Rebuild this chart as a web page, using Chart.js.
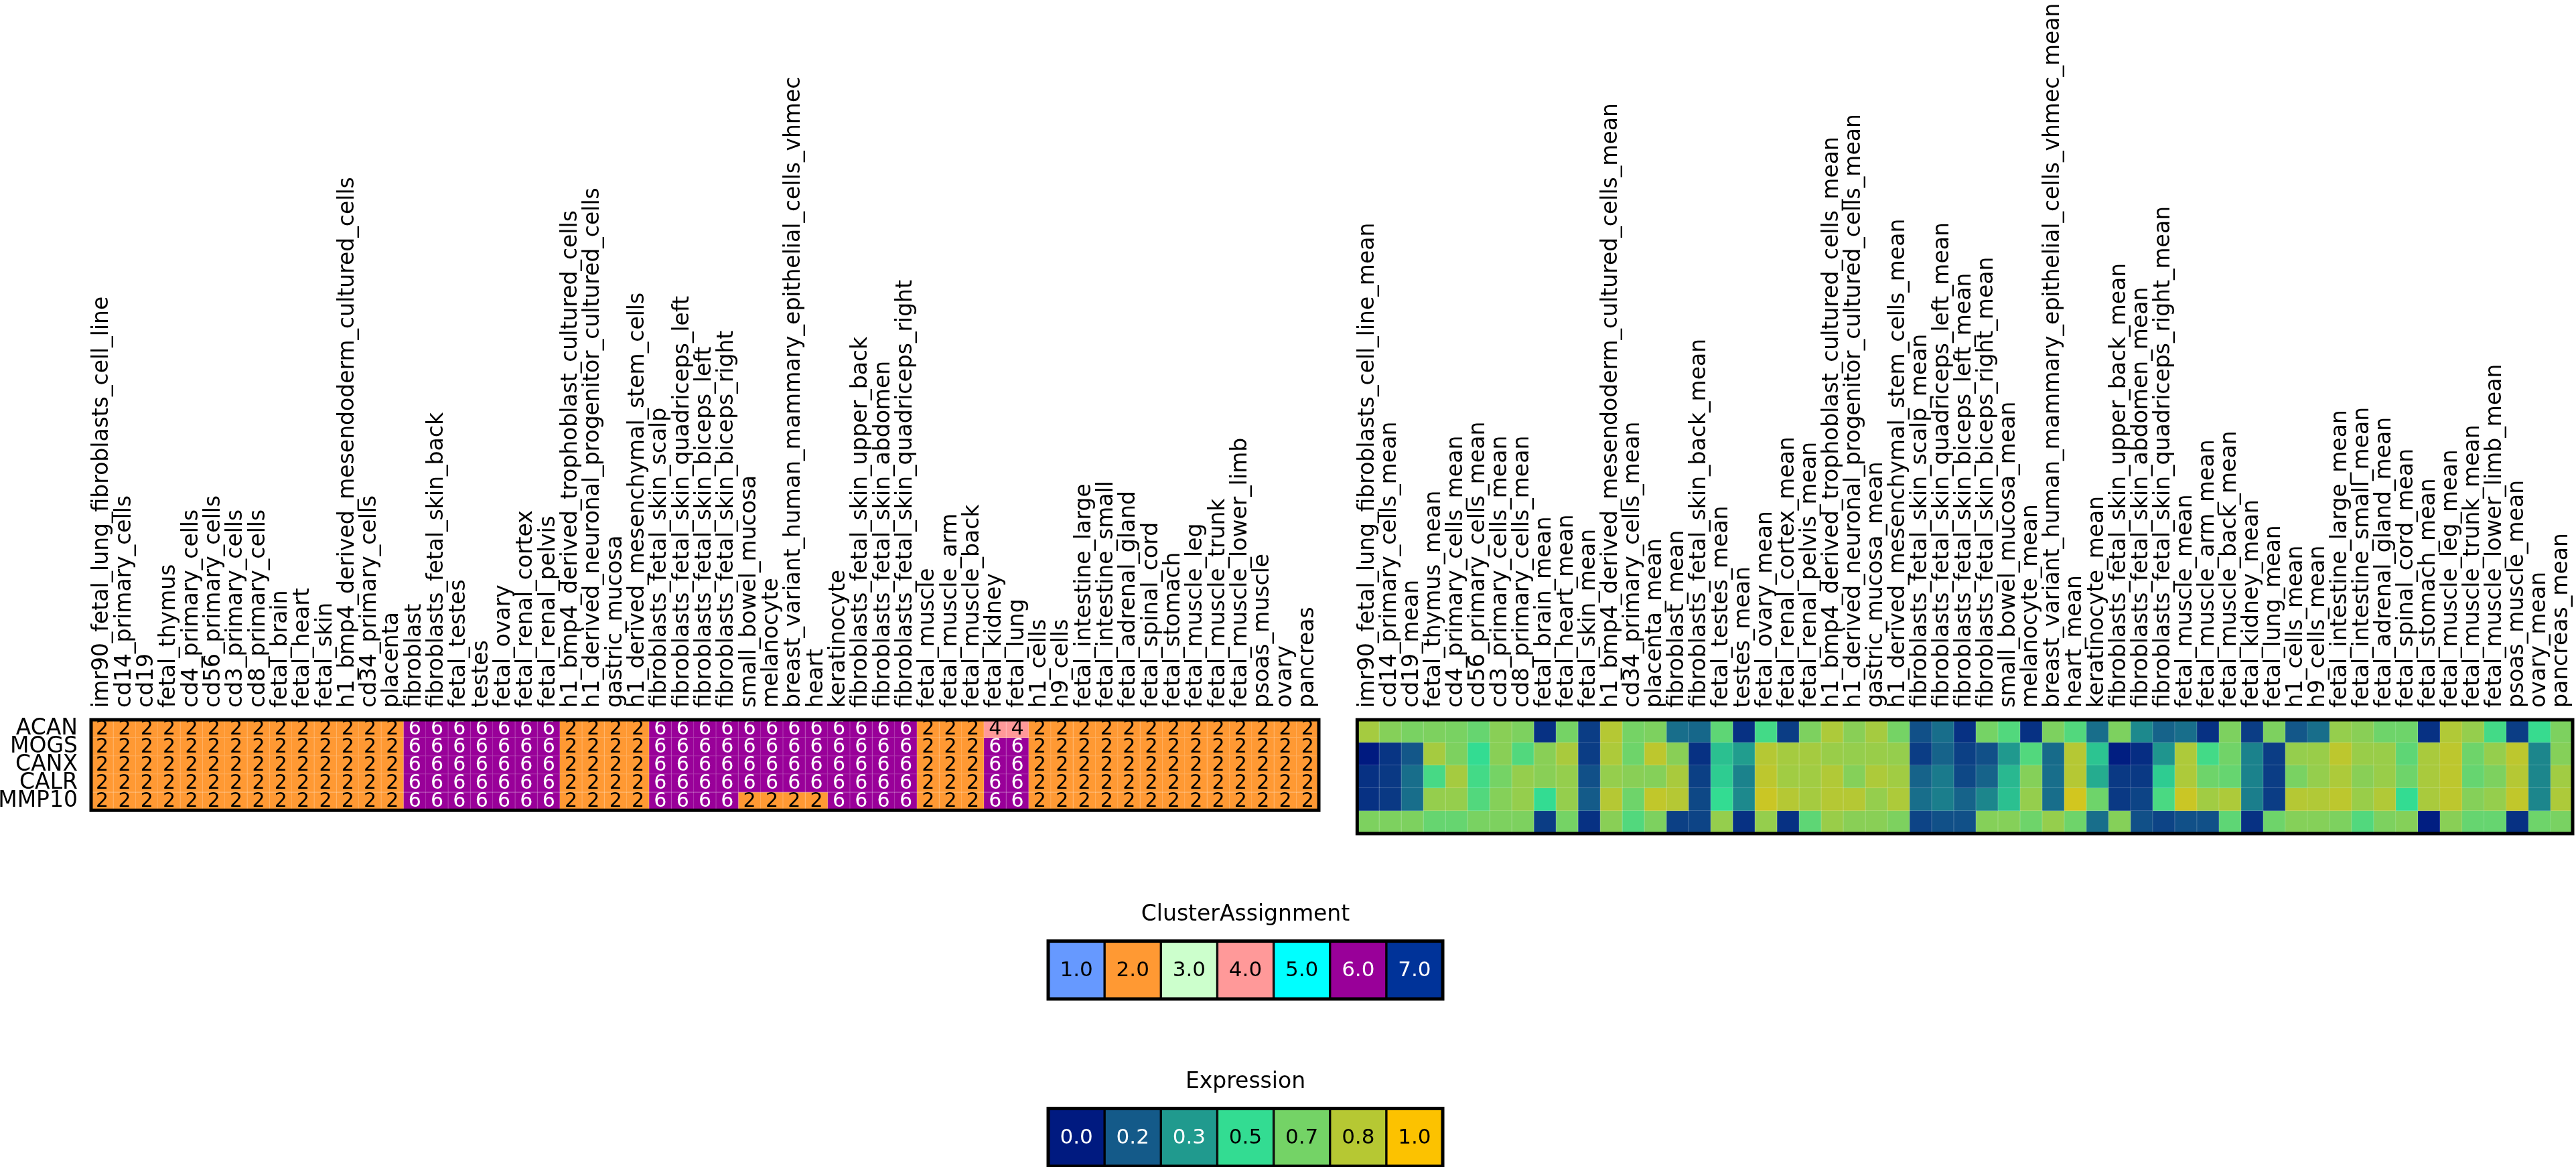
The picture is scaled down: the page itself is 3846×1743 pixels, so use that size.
<!DOCTYPE html>
<html><head><meta charset="utf-8">
<script src="https://cdn.jsdelivr.net/npm/chart.js@4.4.1/dist/chart.umd.min.js"></script>
<style>
html,body{margin:0;padding:0;background:#fff;width:3846px;height:1743px;overflow:hidden;}
canvas{position:absolute;}
</style></head><body>
<canvas id="left" width="1975" height="1250" style="left:0px;top:0px"></canvas>
<canvas id="right" width="1861" height="1250" style="left:1985px;top:0px"></canvas>
<canvas id="legC" width="640" height="170" style="left:1540px;top:1330px"></canvas>
<canvas id="legE" width="640" height="165" style="left:1540px;top:1580px"></canvas>
<script>
const genes = ['ACAN','MOGS','CANX','CALR','MMP10'];

const cellTypes = ['imr90_fetal_lung_fibroblasts_cell_line','cd14_primary_cells','cd19','fetal_thymus','cd4_primary_cells','cd56_primary_cells','cd3_primary_cells','cd8_primary_cells','fetal_brain','fetal_heart','fetal_skin','h1_bmp4_derived_mesendoderm_cultured_cells','cd34_primary_cells','placenta','fibroblast','fibroblasts_fetal_skin_back','fetal_testes','testes','fetal_ovary','fetal_renal_cortex','fetal_renal_pelvis','h1_bmp4_derived_trophoblast_cultured_cells','h1_derived_neuronal_progenitor_cultured_cells','gastric_mucosa','h1_derived_mesenchymal_stem_cells','fibroblasts_fetal_skin_scalp','fibroblasts_fetal_skin_quadriceps_left','fibroblasts_fetal_skin_biceps_left','fibroblasts_fetal_skin_biceps_right','small_bowel_mucosa','melanocyte','breast_variant_human_mammary_epithelial_cells_vhmec','heart','keratinocyte','fibroblasts_fetal_skin_upper_back','fibroblasts_fetal_skin_abdomen','fibroblasts_fetal_skin_quadriceps_right','fetal_muscle','fetal_muscle_arm','fetal_muscle_back','fetal_kidney','fetal_lung','h1_cells','h9_cells','fetal_intestine_large','fetal_intestine_small','fetal_adrenal_gland','fetal_spinal_cord','fetal_stomach','fetal_muscle_leg','fetal_muscle_trunk','fetal_muscle_lower_limb','psoas_muscle','ovary','pancreas'];
const meanLabels = cellTypes.map(c => c + '_mean');

// Cluster assignment (left heatmap)
const clusterACAN  = [2,2,2,2,2,2,2,2,2,2,2,2,2,2, 6,6,6,6,6,6,6, 2,2,2,2, 6,6,6,6,6,6,6,6,6,6,6,6, 2,2,2, 4,4, 2,2,2,2,2,2,2,2,2,2,2,2,2];
const clusterMOGS  = [2,2,2,2,2,2,2,2,2,2,2,2,2,2, 6,6,6,6,6,6,6, 2,2,2,2, 6,6,6,6,6,6,6,6,6,6,6,6, 2,2,2, 6,6, 2,2,2,2,2,2,2,2,2,2,2,2,2];
const clusterCANX  = [2,2,2,2,2,2,2,2,2,2,2,2,2,2, 6,6,6,6,6,6,6, 2,2,2,2, 6,6,6,6,6,6,6,6,6,6,6,6, 2,2,2, 6,6, 2,2,2,2,2,2,2,2,2,2,2,2,2];
const clusterCALR  = [2,2,2,2,2,2,2,2,2,2,2,2,2,2, 6,6,6,6,6,6,6, 2,2,2,2, 6,6,6,6,6,6,6,6,6,6,6,6, 2,2,2, 6,6, 2,2,2,2,2,2,2,2,2,2,2,2,2];
const clusterMMP10 = [2,2,2,2,2,2,2,2,2,2,2,2,2,2, 6,6,6,6,6,6,6, 2,2,2,2, 6,6,6,6,2,2,2,2,6,6,6,6, 2,2,2, 6,6, 2,2,2,2,2,2,2,2,2,2,2,2,2];

// Mean expression (right heatmap)
const exprACAN  = [0.79,0.71,0.68,0.69,0.68,0.63,0.72,0.69,0.06,0.67, 0.09,0.83,0.67,0.69,0.22,0.20,0.61,0.06,0.54,0.09, 0.69,0.81,0.72,0.79,0.67,0.14,0.22,0.06,0.67,0.58, 0.06,0.69,0.58,0.22,0.69,0.29,0.19,0.22,0.06,0.69, 0.09,0.69,0.16,0.22,0.75,0.72,0.65,0.65,0.06,0.82, 0.75,0.54,0.09,0.51,0.69];
const exprMOGS  = [0.00,0.07,0.16,0.79,0.69,0.50,0.72,0.58,0.72,0.80, 0.09,0.81,0.65,0.85,0.72,0.06,0.43,0.34,0.83,0.79, 0.79,0.76,0.75,0.76,0.75,0.09,0.19,0.10,0.14,0.33, 0.58,0.21,0.83,0.44,0.01,0.05,0.32,0.81,0.54,0.66, 0.27,0.09,0.75,0.76,0.85,0.76,0.76,0.61,0.80,0.85, 0.65,0.75,0.85,0.28,0.71];
const exprCANX  = [0.06,0.08,0.22,0.55,0.79,0.54,0.67,0.75,0.72,0.75, 0.14,0.75,0.72,0.71,0.80,0.10,0.46,0.27,0.85,0.78, 0.78,0.82,0.71,0.81,0.78,0.19,0.25,0.12,0.19,0.41, 0.71,0.22,0.83,0.38,0.08,0.08,0.46,0.81,0.65,0.63, 0.27,0.09,0.68,0.75,0.81,0.72,0.76,0.65,0.80,0.85, 0.63,0.69,0.83,0.28,0.78];
const exprCALR  = [0.06,0.08,0.22,0.75,0.75,0.58,0.71,0.75,0.50,0.75, 0.17,0.83,0.65,0.86,0.83,0.12,0.50,0.29,0.88,0.83, 0.79,0.83,0.83,0.75,0.81,0.22,0.26,0.19,0.28,0.43, 0.75,0.22,0.90,0.65,0.08,0.11,0.56,0.88,0.78,0.81, 0.26,0.09,0.83,0.82,0.85,0.76,0.82,0.50,0.80,0.85, 0.71,0.75,0.86,0.28,0.81];
const exprMMP10 = [0.69,0.69,0.69,0.63,0.63,0.68,0.69,0.69,0.09,0.67, 0.06,0.72,0.58,0.69,0.10,0.11,0.75,0.06,0.75,0.06, 0.61,0.76,0.72,0.72,0.69,0.11,0.14,0.14,0.71,0.71, 0.65,0.75,0.65,0.22,0.71,0.14,0.11,0.14,0.14,0.61, 0.06,0.65,0.71,0.71,0.69,0.58,0.69,0.71,0.01,0.72, 0.63,0.63,0.06,0.65,0.68];

// Legends
const clusterLegendValues = [1,2,3,4,5,6,7];
const clusterLegendLabels = ['1.0','2.0','3.0','4.0','5.0','6.0','7.0'];
const clusterColors = ['#6699ff','#ff9933','#ccffcc','#ff9999','#00ffff','#990099','#003399'];
const exprLegendValues = [0, 0.167, 0.333, 0.5, 0.667, 0.833, 1];
const exprLegendLabels = ['0.0','0.2','0.3','0.5','0.7','0.8','1.0'];
const exprStops = ['#001a80','#145a89','#209a8e','#33dc92','#74d366','#b6c833','#fcc200'];

const clusterRows = [clusterACAN, clusterMOGS, clusterCANX, clusterCALR, clusterMMP10];
const exprRows = [exprACAN, exprMOGS, exprCANX, exprCALR, exprMMP10];

const FONT = 'DejaVu Sans';
const LABEL_PX = 33;
Chart.defaults.font.family = FONT;
Chart.defaults.color = '#000';

function hexToRgb(h){ h=h.replace('#',''); return [parseInt(h.slice(0,2),16),parseInt(h.slice(2,4),16),parseInt(h.slice(4,6),16)]; }
function rgbStr(c){ return 'rgb('+c.map(v=>Math.round(v)).join(',')+')'; }
function cmapRgb(v){
  const n = exprStops.length-1;
  const t = Math.max(0,Math.min(1,v))*n;
  const i = Math.min(Math.floor(t), n-1), f = t-i;
  const a = hexToRgb(exprStops[i]), b = hexToRgb(exprStops[i+1]);
  return [0,1,2].map(k => a[k]+(b[k]-a[k])*f);
}
function lighten(c, amt){ return c.map(v => v+(255-v)*amt); }
function clusterRgb(c){ return hexToRgb(clusterColors[c-1]); }
function clusterTextColor(c){ return c >= 6 ? '#ffffff' : '#000000'; }
function exprTextColor(v){ return v < 0.4 ? '#ffffff' : '#000000'; }

function textPlugin(values, colorFn, fmtFn, fontPx){
  return {
    id: 'cellText',
    afterDatasetsDraw(chart){
      const ctx = chart.ctx;
      ctx.save();
      ctx.font = fontPx + 'px "' + FONT + '"';
      ctx.textAlign = 'center';
      ctx.textBaseline = 'middle';
      chart.data.datasets.forEach((ds, di) => {
        chart.getDatasetMeta(di).data.forEach((el, j) => {
          const v = values[di][j];
          ctx.fillStyle = colorFn(v);
          ctx.fillText(fmtFn(v, j), el.x, (el.y + el.base)/2 + 1);
        });
      });
      ctx.restore();
    }
  };
}
const framePlugin = {
  id: 'frame',
  afterDraw(chart){
    const a = chart.chartArea, ctx = chart.ctx;
    ctx.save();
    ctx.strokeStyle = '#000';
    ctx.lineWidth = 5;
    ctx.strokeRect(a.left, a.top, a.right-a.left, a.bottom-a.top);
    ctx.restore();
  }
};

function heatDatasets(rows, rgbFn){
  return rows.map((row, i) => ({
    data: row.map(() => [i, i+1]),
    backgroundColor: row.map(v => rgbStr(rgbFn(v))),
    borderColor: row.map(v => rgbStr(lighten(rgbFn(v), 0.25))),
    borderWidth: {top:0, left:0, right:1, bottom:1},
    borderSkipped: false,
    grouped: false,
    barPercentage: 1,
    categoryPercentage: 1
  }));
}

function heatOptions(showY, xAxisHeight, yAxisWidth, padding){
  return {
    responsive: false, animation: false, devicePixelRatio: 1, events: [],
    layout: { padding },
    plugins: { legend: {display:false}, tooltip: {enabled:false}, title: {display:false} },
    scales: {
      x: {
        type: 'category', position: 'top', offset: true,
        grid: { display:false, drawTicks:false }, border: { display:false },
        ticks: { autoSkip:false, minRotation:90, maxRotation:90, padding:18, labelOffset: LABEL_PX*1.2,
                 color:'#000', font:{size:LABEL_PX, family:FONT} },
        afterFit: s => { s.height = xAxisHeight; }
      },
      y: {
        type: 'linear', min: 0, max: 5, reverse: true, display: showY,
        grid: { display:false, drawTicks:false }, border: { display:false },
        afterBuildTicks: s => { s.ticks = genes.map((g,i) => ({value: i+0.5})); },
        ticks: { autoSkip:false, padding: 20, color:'#000', font:{size:LABEL_PX, family:FONT}, callback: (v, idx) => genes[idx] },
        afterFit: s => { s.width = yAxisWidth; }
      }
    }
  };
}

// Left heatmap: cluster assignment
new Chart(document.getElementById('left'), {
  type: 'bar',
  data: { labels: cellTypes, datasets: heatDatasets(clusterRows, clusterRgb) },
  options: heatOptions(true, 1075, 136, {left:0, top:0, right:6, bottom:5}),
  plugins: [textPlugin(clusterRows, clusterTextColor, v => String(v), 30), framePlugin]
});

// Right heatmap: expression means
new Chart(document.getElementById('right'), {
  type: 'bar',
  data: { labels: meanLabels, datasets: heatDatasets(exprRows, cmapRgb) },
  options: heatOptions(false, 1075, 0, {left:23, top:0, right:5, bottom:5}),
  plugins: [framePlugin]
});

function legendChart(id, title, values, labels, rgbFn, txtFn, bottomPad){
  new Chart(document.getElementById(id), {
    type: 'bar',
    data: { labels: labels, datasets: [{
      data: values.map(() => [0,1]),
      backgroundColor: values.map(v => rgbStr(rgbFn(v))),
      borderColor: '#000', borderWidth: 2, borderSkipped: false,
      barPercentage: 1, categoryPercentage: 1
    }]},
    options: {
      responsive:false, animation:false, devicePixelRatio:1, events: [],
      layout: { padding: {left:25, right:26, top:0, bottom:bottomPad} },
      plugins: {
        legend:{display:false}, tooltip:{enabled:false},
        title: { display:true, text:title, color:'#000', font:{size:33, family:FONT, weight:'normal'}, padding:{top:17, bottom:19} }
      },
      scales: {
        x: { display:false, offset:true },
        y: { display:false, min:0, max:1 }
      }
    },
    plugins: [textPlugin([values], txtFn, (v, j) => labels[j], 31), framePlugin]
  });
}
legendChart('legC', 'ClusterAssignment', clusterLegendValues, clusterLegendLabels, clusterRgb, clusterTextColor, 8);
legendChart('legE', 'Expression', exprLegendValues, exprLegendLabels, cmapRgb, exprTextColor, 3);
</script>
</body></html>
